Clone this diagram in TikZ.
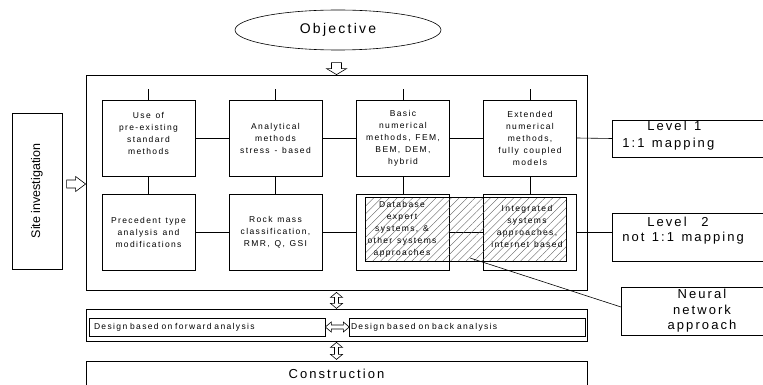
\documentclass[tikz,border=0pt]{standalone}
\usepackage{fontspec}
\setmainfont{Liberation Sans}
\newfontfamily\spc{Liberation Sans}[LetterSpace=16,WordSpace=1.3]
\usetikzlibrary{shapes.geometric,patterns.meta,calc}
\begin{document}
\begin{tikzpicture}[x=1pt,y=-1pt,line width=0.6pt,
  mbox/.style={draw, minimum width=93pt, minimum height=76pt, inner sep=0pt, align=center, font=\spc\fontsize{8.5}{12}\selectfont},
  btxt/.style={inner sep=0pt, align=center, font=\spc\fontsize{8.5}{12}\selectfont},
  big/.style={inner sep=0pt, font=\spc\fontsize{13}{15.5}\selectfont},
  frame/.style={draw, line width=0.8pt, inner sep=0pt},
  levelbox/.style={draw, inner sep=0pt, anchor=west, minimum width=158pt},
  dsgn/.style={draw, minimum width=236pt, minimum height=18pt, inner ysep=0pt, align=left, font=\spc\fontsize{8.5}{10}\selectfont},
  hollow/.style={draw, fill=white, line width=0.6pt, line join=miter}
]
\useasboundingbox (0,0) rectangle (763,385);

% objective
\node[ellipse, draw, minimum width=206pt, minimum height=40pt, inner sep=0pt,
      font=\spc\fontsize{14}{16}\selectfont] (obj) at (338,30) {Objective};

% main frame
\node[frame, minimum width=501pt, minimum height=215pt] (main) at (336.5,182.5) {};

% top row
\node[mbox] (b1) at (148.5,138) {};
\node[btxt] (b1t) at (148.5,133) {Use of\\pre-existing\\standard\\methods};
\node[mbox] (b2) at (275.5,138) {Analytical\\methods\\stress - based};
\node[mbox] (b3) at (403,138) {Basic\\numerical\\methods, FEM,\\BEM, DEM,\\hybrid};
\node[mbox] (b4) at (530,138) {Extended\\numerical\\methods,\\fully coupled\\models};

% bottom row
\node[mbox] (c1) at (148.5,232) {Precedent type\\analysis and\\modifications};
\node[mbox] (c2) at (275.5,232) {Rock mass\\classification,\\RMR, Q, GSI};
\node[mbox] (c3) at (403,232) {};
\node[mbox] (c4) at (530,232) {};

% connectors
\foreach \b in {b1,b2,b3,b4} \draw (\b.north) -- ++(0,-11);
\draw (b1.east) -- (b2.west);
\draw (b2.east) -- (b3.west);
\draw (b3.east) -- (b4.west);
\draw (c1.east) -- (c2.west);
\draw (c2.east) -- (c3.west);
\draw (c3.east) -- (c4.west);
\draw (b1.south) -- (c1.north);
\draw (b2.south) -- (c2.north);
\draw (b3.south) -- (c3.north);
\draw (b4.south) -- (c4.north);

% hatched area
\node[draw, line width=0.8pt, inner sep=0pt, minimum width=201pt, minimum height=64pt,
      pattern={Lines[angle=45,distance=5.5pt,line width=0.35pt]}, pattern color=black!65] (nnarea) at (465.5,229) {};
\node[btxt] (c3t) at (402,229) {Database\\expert\\systems, \&\\other systems\\approaches};
\node[btxt] (c4t) at (527,226) {Integrated\\systems\\approaches,\\internet based};

% levels
\node[levelbox, minimum height=37pt] (lv1) at (612,138.5) {};
\node[big, anchor=base west] (lv1a) at (647,131) {Level 1};
\node[big, anchor=base west] (lv1b) at (622,147) {1:1 mapping};
\draw (b4.east) -- (lv1.west);

\node[levelbox, minimum height=48pt] (lv2) at (612,237) {};
\node[big, anchor=base west] (lv2a) at (647,226) {Level\ \ 2};
\node[big, anchor=base west] (lv2b) at (622,241) {not 1:1 mapping};
\draw (c4.east) -- (c4.east -| lv2.west);

% neural network
\node[levelbox, minimum width=149pt, minimum height=48pt] (nn) at (621,311) {};
\node[big, align=center] (nnt) at (702,311) {Neural\\network\\approach};
\coordinate (nns) at (470,258);
\draw (nns) -- ([yshift=4pt]nn.west);

% site investigation
\node[draw, rotate=90, minimum width=156pt, minimum height=50pt, inner sep=0pt,
      font=\fontsize{12.5}{15}\selectfont] (site) at (37,191) {Site investigation};

% design
\node[frame, minimum width=501pt, minimum height=32pt] (des) at (336.5,325) {};
\node[dsgn, inner xsep=5pt, text width=226pt] (fwd) at (207,327) {Design based on forward analysis};
\node[dsgn, inner xsep=2pt, text width=232pt] (back) at (467,327) {Design based on back analysis};

% construction
\node[frame, minimum width=501pt, minimum height=26pt, font=\spc\fontsize{13}{15}\selectfont] (con) at (336.5,374) {Construction};

% hollow arrows
\draw[hollow] (main.north) -- ++(10,-6) -- ++(-5,0) -- ++(0,-6) -- ++(-10,0) -- ++(0,6) -- ++(-5,0) -- cycle;
\draw[hollow] ([yshift=-1.5pt]main.west) -- ++(-10,-7.5) -- ++(0,3.5) -- ++(-9,0) -- ++(0,8) -- ++(9,0) -- ++(0,3.5) -- cycle;
\draw[hollow] (fwd.east) -- ++(6,-5) -- ++(0,3) -- ++(12,0) -- ++(0,-3) -- ++(6,5) -- ++(-6,5) -- ++(0,-3) -- ++(-12,0) -- ++(0,3) -- cycle;
\draw[hollow] ([yshift=-2pt]main.south) -- ++(6,5) -- ++(-4,0) -- ++(0,6) -- ++(4,0) -- ++(-6,5) -- ++(-6,-5) -- ++(4,0) -- ++(0,-6) -- ++(-4,0) -- cycle;
\draw[hollow] ([yshift=-1pt]des.south) -- ++(6,5) -- ++(-4,0) -- ++(0,7) -- ++(4,0) -- ++(-6,5) -- ++(-6,-5) -- ++(4,0) -- ++(0,-7) -- ++(-4,0) -- cycle;
\end{tikzpicture}
\end{document}
